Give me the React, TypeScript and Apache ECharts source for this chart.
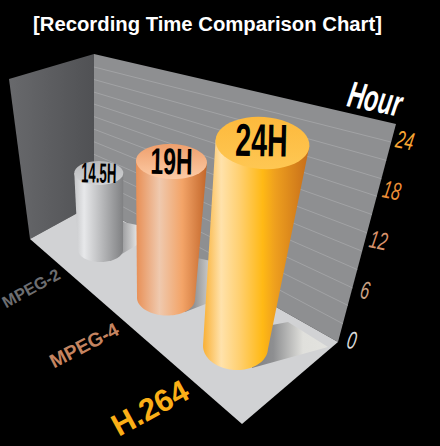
import React, { useEffect, useRef } from "react";
import * as echarts from "echarts";

const titleText = "[Recording Time Comparison Chart]";
const axisName = "Hour";
const categories = ["MPEG-2", "MPEG-4", "H.264"];
const hours = [14.5, 19, 24];
const valueLabels = ["14.5H", "19H", "24H"];
const tickValues = [0, 6, 12, 18, 24];
const gridValues = [2.2, 4.4, 6.5, 8.7, 10.9, 13.1, 15.3, 17.5, 19.6, 21.8, 24];

// Styles and perspective constants of each depth slot
const tickColors = ["#d9dadb", "#c9a083", "#d8926c", "#ee9038", "#f9a533"];
const catColors = ["#6d6e71", "#c58460", "#fbaf17"];
const catFont = [16.5, 19.5, 31];
const catRot = [0.5, 0.48, 0.5];
const catPos = [[31, 288], [84, 345], [150, 408]];
const slots = [
  { dx: 0, rb: 22.5, rbY: 12, rt: 24.5, rtY: 12, h24: 127.4, lean: -1.7, tilt: 0, font: 28, sx: 0.47,
    top: [[0, "#b9babc"], [1, "#d2d3d5"]],
    body: [[0, "#c5c6c8"], [0.2, "#e7e8ea"], [0.5, "#c0c1c3"], [1, "#7f8082"]] },
  { dx: -2, rb: 29, rbY: 17, rt: 35.5, rtY: 17.5, h24: 173, lean: 5.5, tilt: 2, font: 37, sx: 0.62,
    top: [[0, "#ef9f6c"], [1, "#fccba6"]],
    body: [[0, "#e88f55"], [0.33, "#efc9ae"], [0.65, "#f3a468"], [1, "#c2662a"]] },
  { dx: 0, rb: 32.5, rbY: 23, rt: 47, rtY: 26, h24: 204, lean: 27, tilt: 4, font: 46, sx: 0.62,
    top: [[0, "#fdb93c"], [1, "#fec753"]],
    body: [[0, "#f9b035"], [0.17, "#ffe2ab"], [0.35, "#ffcf6e"], [0.56, "#ffb915"], [0.68, "#ee9f1e"], [1, "#c56c1a"]] },
];
const SANS = "'Liberation Sans', Arial, sans-serif";

const G = { left: 94, top: 67, w: 302, h: 137 };

function arc(cx: number, cy: number, rx: number, ry: number, tilt: number, a0: number, a1: number) {
  const n = 48;
  const t = (tilt * Math.PI) / 180;
  const pts: number[][] = [];
  for (let i = 0; i <= n; i++) {
    const a = a0 + ((a1 - a0) * i) / n;
    const x = rx * Math.cos(a);
    const y = ry * Math.sin(a);
    pts.push([cx + x * Math.cos(t) - y * Math.sin(t), cy + x * Math.sin(t) + y * Math.cos(t)]);
  }
  return pts;
}
const grad = (stops: any[], x2 = 1, y2 = 0) =>
  new echarts.graphic.LinearGradient(0, 0, x2, y2, stops.map(([offset, color]) => ({ offset, color })));
const frac = (api: any, v: number) => (G.top + G.h - api.coord([0, v])[1]) / G.h;

function poly(points: number[][], fill: any) {
  return { type: "polygon", shape: { points }, style: { fill } };
}

export default function App() {
  const ref = useRef<HTMLDivElement>(null);
  useEffect(() => {
    document.body.style.margin = "0";
    document.body.style.background = "#000";
    const chart = echarts.init(ref.current!, null, { renderer: "svg" });
    const base = { type: "custom", clip: false, silent: true, encode: { x: 0, y: 1 } };
    chart.setOption({
      animation: false,
      backgroundColor: "#000000",
      title: {
        text: titleText,
        left: 28,
        top: 9,
        textStyle: { color: "#ffffff", fontFamily: SANS, fontWeight: "bold", fontSize: 20.3 },
      },
      grid: { left: G.left, top: G.top, width: G.w, height: G.h },
      xAxis: { type: "category", data: categories, show: false },
      yAxis: { type: "value", min: 0, max: 24, interval: 6, show: false },
      series: [
        {
          ...base,
          name: "walls",
          data: [[0, 0]],
          renderItem: () => ({
            type: "group",
            children: [
              poly([[9, 79], [94, 54], [94, 204], [30, 239]], grad([[0, "#68696c"], [1, "#505154"]])),
              poly([[94, 54], [396, 124], [338, 342], [94, 204]], "#8e8f91"),
            ],
          }),
        },
        {
          ...base,
          name: "grid",
          data: gridValues.map((v) => [0, v]),
          renderItem: (_: any, api: any) => {
            const t = frac(api, api.value(1));
            return {
              type: "line",
              shape: { x1: 94, y1: 204 - 137 * t, x2: 338 + 53 * t, y2: 342 - 200 * t },
              style: { stroke: "#a2a3a5", lineWidth: 1 },
            };
          },
        },
        {
          ...base,
          name: "floor",
          data: [[0, 0]],
          renderItem: () => ({
            type: "group",
            children: [
              poly([[30, 239], [94, 204], [338, 342], [242, 424]], "#d1d2d4"),
              poly([[110, 261], [137, 245], [137, 225], [123, 222], [110, 240]],
                grad([[0, "#8f9092"], [0.45, "#9c9d9f"], [1, "#e2e2e2"]])),
              poly([[185, 312], [216, 300], [216, 262], [197, 258], [185, 280]],
                grad([[0, "#87888a"], [0.3, "#939496"], [1, "#e2e2df"]])),
              poly([[252, 368], [328, 347], [288, 322], [272, 325], [250, 340]],
                grad([[0, "#7f8082"], [0.3, "#8e8f91"], [0.68, "#e0e0dc"], [1, "#e3e3df"]])),
            ],
          }),
        },
        {
          ...base,
          name: "Recording time",
          data: hours.map((v, i) => [i, v]),
          renderItem: (params: any, api: any) => {
            const i = params.dataIndex;
            const s = slots[i];
            const u = (api.coord([i, 0])[0] - G.left) / G.w;
            const bx = 100.5 + (u - 1 / 6) * 202.5 + s.dx;
            const by = 250 + (u - 1 / 6) * 145.5;
            const f = frac(api, api.value(1));
            const tx = bx + s.lean * f * (24 / hours[i]);
            const ty = by - s.h24 * f;
            const bottom = arc(bx, by, s.rb, s.rbY, s.tilt, 0, Math.PI);
            const topLeft = arc(tx, ty, s.rt, s.rtY, s.tilt, Math.PI, Math.PI)[0];
            const topRight = arc(tx, ty, s.rt, s.rtY, s.tilt, 0, 0)[0];
            return {
              type: "group",
              children: [
                poly([topRight, ...bottom, topLeft], grad(s.body)),
                poly(arc(tx, ty, s.rt, s.rtY, s.tilt, 0, Math.PI * 2), grad(s.top, 0, 1)),
                {
                  type: "text",
                  x: tx + (i === 2 ? -1 : 0),
                  y: ty + (i === 2 ? -3 : 0),
                  rotation: -0.02,
                  scaleX: s.sx,
                  style: {
                    text: valueLabels[i],
                    fontFamily: SANS,
                    fontWeight: "bold",
                    fontSize: s.font,
                    fill: "#000000",
                    align: "center",
                    verticalAlign: "middle",
                  },
                },
              ],
            };
          },
        },
        {
          ...base,
          name: "ticks",
          data: tickValues.map((v) => [0, v]),
          renderItem: (params: any, api: any) => {
            const v = api.value(1);
            const t = frac(api, v);
            return {
              type: "text",
              x: 338 + 53 * t + 14,
              y: 342 - 200 * t - 2,
              rotation: -0.2,
              scaleX: 0.65,
              style: {
                text: String(v),
                fontFamily: SANS,
                fontStyle: "italic",
                fontSize: 25,
                fill: tickColors[params.dataIndex],
                align: "center",
                verticalAlign: "middle",
              },
            };
          },
        },
        {
          ...base,
          name: "labels",
          data: categories.map((_, i) => [i, 0]),
          renderItem: (params: any) => {
            const i = params.dataIndex;
            return {
              type: "text",
              x: catPos[i][0],
              y: catPos[i][1],
              rotation: catRot[i],
              style: {
                text: categories[i],
                fontFamily: SANS,
                fontWeight: "bold",
                fontSize: catFont[i],
                fill: catColors[i],
                align: "center",
                verticalAlign: "middle",
              },
            };
          },
        },
        {
          ...base,
          name: "axisName",
          data: [[0, 24]],
          renderItem: () => ({
            type: "text",
            x: 375,
            y: 99,
            rotation: -0.2,
            scaleX: 0.63,
            style: {
              text: axisName,
              fontFamily: SANS,
              fontWeight: "bold",
              fontStyle: "italic",
              fontSize: 37,
              fill: "#ffffff",
              align: "center",
              verticalAlign: "middle",
            },
          }),
        },
      ],
    });
    return () => chart.dispose();
  }, []);
  return <div ref={ref} style={{ width: 440, height: 446 }} />;
}
